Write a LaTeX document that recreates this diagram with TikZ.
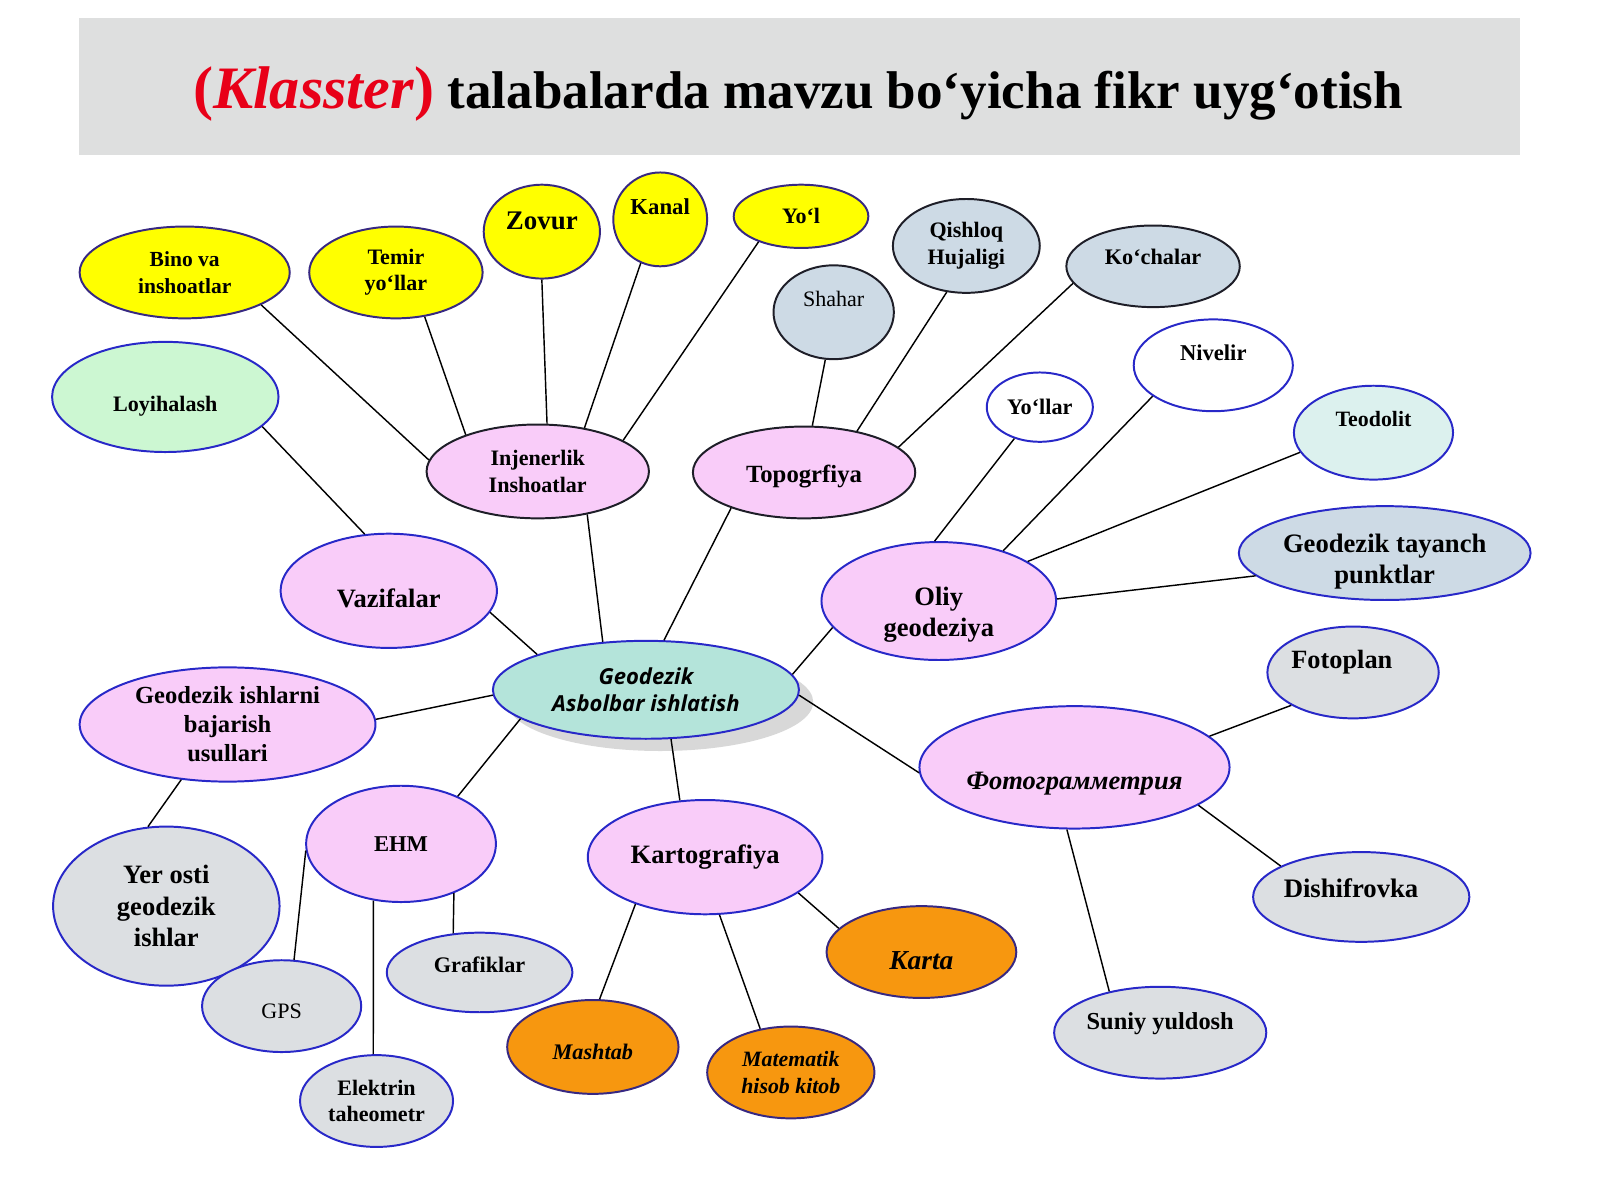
\documentclass[tikz,border=0pt]{standalone}
\usepackage{fontspec}
\setmainfont{Liberation Serif}
\newfontfamily\hubfont{Open Sans}
\usetikzlibrary{shapes.geometric,shadows}
\definecolor{titlegray}{RGB}{222,223,223}
\definecolor{klred}{RGB}{232,0,24}
\definecolor{yelfill}{RGB}{255,255,0}
\definecolor{pnkfill}{RGB}{249,204,249}
\definecolor{gryfill}{RGB}{220,223,226}
\definecolor{bgryfill}{RGB}{205,218,229}
\definecolor{mntfill}{RGB}{220,241,238}
\definecolor{grnfill}{RGB}{204,247,210}
\definecolor{hubfill}{RGB}{180,228,218}
\definecolor{orgfill}{RGB}{247,151,15}
\definecolor{edgeblue}{RGB}{40,40,200}
\definecolor{edgenavy}{RGB}{55,40,130}
\definecolor{edgedark}{RGB}{30,30,40}

\begin{document}
\begin{tikzpicture}[x=0.02cm,y=-0.02cm,
  blob/.style={ellipse,draw=edgeblue,line width=1.1pt,inner sep=0pt,align=center},
  sz/.style 2 args={minimum width=#1*0.04cm,minimum height=#2*0.04cm},
  fb/.style 2 args={font=\fontsize{#1pt}{#2pt}\selectfont\bfseries},
  fr/.style 2 args={font=\fontsize{#1pt}{#2pt}\selectfont},
  fi/.style 2 args={font=\fontsize{#1pt}{#2pt}\selectfont\bfseries\itshape},
  txtup/.style={text depth=#1},
  txtdn/.style={text height=#1},
  yel/.style={fill=yelfill,draw=edgenavy},
  pnk/.style={fill=pnkfill},
  gry/.style={fill=gryfill},
  bgry/.style={fill=bgryfill},
  wht/.style={fill=white},
  mnt/.style={fill=mntfill},
  grn/.style={fill=grnfill},
  org/.style={fill=orgfill,draw=edgenavy},
  dark/.style={draw=edgedark},
  hub/.style={fill=hubfill,font=\hubfont\fontsize{12.3pt}{15.4pt}\selectfont\bfseries\itshape,
    drop shadow={shadow xshift=0.28cm,shadow yshift=-0.24cm,fill=black!30}},
  lnk/.style={line width=0.8pt}]
\useasboundingbox (0,0) rectangle (1568,1176);
% title
\fill[titlegray] (77,18) rectangle (1490,152);
\node(title) at (782,92)[font=\fontsize{29.6pt}{36pt}\selectfont\bfseries]
  {\textcolor{klred}{\fontsize{33.6pt}{36pt}\selectfont(\textit{Klasster})} talabalarda mavzu bo‘yicha fikr uyg‘otish};
% injenerlik group
\node(bino) at (181,267)[blob,yel,sz={103}{45},fb={12}{14.8}] {Bino va\\inshoatlar};
\node(temir) at (388,267)[blob,yel,sz={85}{45},fb={12.3}{14.8}] {Temir\\yo‘llar};
\node(zovur) at (531,227)[blob,yel,sz={57}{46},fb={15}{18},txtup=0.44cm] {Zovur};
\node(kanal) at (647,215)[blob,yel,sz={46}{46},fb={12.7}{15},txtup=0.52cm] {Kanal};
\node(yol) at (785,212)[blob,yel,sz={66}{31},fb={12.3}{14}] {Yo‘l};
\node(injener) at (527,462)[blob,pnk,dark,sz={109}{46},fb={12.3}{14.8}] {Injenerlik\\Inshoatlar};
% topografiya group
\node(shahar) at (817,306)[blob,bgry,dark,sz={59}{46},fr={12.3}{15},txtup=0.52cm] {Shahar};
\node(qishloq) at (947,241)[blob,bgry,dark,sz={72}{46},fb={12.3}{14.8}] {Qishloq\\Hujaligi};
\node(kochalar) at (1130,261)[blob,bgry,dark,sz={85}{40},fb={12.4}{15},txtup=0.36cm] {Ko‘chalar};
\node(topo) at (788,463)[blob,pnk,dark,sz={109}{45},fb={13.8}{16},txtdn=0.49cm] {Topogrfiya};
% oliy geodeziya group
\node(yollar) at (1019,399)[blob,wht,sz={52}{34},fb={12.4}{14}] {Yo‘llar};
\node(nivelir) at (1189,358)[blob,wht,sz={78}{45},fb={12.6}{14},txtup=0.48cm] {Nivelir};
\node(teodolit) at (1346,424)[blob,mnt,sz={78}{46},fb={12.2}{15},txtup=0.52cm] {Teodolit};
\node(tayanch) at (1357,542)[blob,bgry,sz={143}{46},fb={14.85}{17.6},txtdn=1.32cm,inner ysep=-0.3cm] {Geodezik tayanch\\punktlar};
\node(oliy) at (920,589)[blob,pnk,sz={115}{57},fb={14.8}{17.6},txtdn=1.52cm] {Oliy\\geodeziya};
% left side
\node(loyiha) at (162,389)[blob,grn,sz={111}{54},fb={12.3}{15},txtdn=0.65cm] {Loyihalash};
\node(vazifa) at (381,579)[blob,pnk,sz={106}{56},fb={14.8}{17},txtdn=0.67cm] {Vazifalar};
\node(usul) at (223,710)[blob,pnk,sz={145}{56},fb={13.7}{16.2}] {Geodezik ishlarni\\bajarish\\usullari};
\node(yerosti) at (163,888)[blob,gry,sz={111}{78},fb={14.8}{17.6}] {Yer osti\\geodezik\\ishlar};
\node(gps) at (276,986)[blob,gry,sz={78}{45},fr={12.3}{14},txtdn=0.5cm] {GPS};
\node(ehm) at (393,827)[blob,pnk,sz={93}{57},fb={12.6}{14}] {EHM};
\node(grafik) at (470,953)[blob,gry,sz={91}{39},fb={12.4}{14},txtup=0.32cm] {Grafiklar};
\node(elektr) at (369,1079)[blob,gry,sz={75}{45},fb={12.3}{14.8}] {Elektrin\\taheometr};
% kartografiya group
\node(karto) at (691,840)[blob,pnk,sz={115}{56},fb={14.8}{17}] {Kartografiya};
\node(mashtab) at (581,1026)[blob,org,sz={84}{46},fi={12.4}{14},txtdn=0.5cm] {Mashtab};
\node(matem) at (775,1051)[blob,org,sz={82}{45},fi={12.2}{14.8}] {Matematik\\hisob kitob};
\node(karta) at (903,933)[blob,org,sz={93}{45},fi={15.3}{17},txtdn=0.68cm] {Karta};
% fotogrammetriya group
\node(foto) at (1053,752)[blob,pnk,sz={152}{60},fi={14.8}{17},txtdn=0.96cm] {Фотограмметрия};
\node(fotoplan) at (1326,659)[blob,gry,sz={84}{45},fb={14.7}{17},txtup=0.5cm] {\kern-0.44cm Fotoplan};
\node(dishif) at (1334,879)[blob,gry,sz={106}{44},fb={14.9}{17},txtup=0.36cm] {\kern-0.4cm Dishifrovka};
\node(suniy) at (1137,1012)[blob,gry,sz={104}{45},fb={13.6}{15},txtup=0.44cm] {Suniy yuldosh};
% centre
\node(hub) at (633,676)[blob,hub,sz={150}{48}] {Geodezik\\Asbolbar ishlatish};
% connectors
\draw[lnk] (bino.-23) -- (injener.174);
\draw[lnk] (temir.-57) -- (injener.153);
\draw[lnk] (zovur.-90) -- (injener.79);
\draw[lnk] (kanal.-114) -- (injener.43);
\draw[lnk] (yol.-149) -- (injener.20);
\draw[lnk] (injener.-41) -- (hub.132);
\draw[lnk] (shahar.-100) -- (topo.80);
\draw[lnk] (qishloq.-113) -- (topo.38);
\draw[lnk] (kochalar.-168) -- (topo.15);
\draw[lnk] (topo.-154) -- (hub.70);
\draw[lnk] (loyiha.-17) -- (vazifa.113);
\draw[lnk] (vazifa.-12) -- (hub.162);
\draw[lnk] (oliy.94) -- (yollar.-129);
\draw[lnk] (oliy.38) -- (nivelir.-153);
\draw[lnk] (oliy.24) -- (teodolit.-165);
\draw[lnk] (oliy.1) -- (tayanch.-170);
\draw[lnk] (oliy.-166) -- (hub.6);
\draw[lnk] (usul.2) -- (hub.-178);
\draw[lnk] (usul.-130) -- (yerosti.103);
\draw[lnk] (ehm.40) -- (hub.-167);
\draw[lnk] (ehm.-176) -- (gps.75);
\draw[lnk] (ehm.-116) -- (elektr.94);
\draw[lnk] (ehm.-43) -- (grafik.124);
\draw[lnk] (karto.114) -- (hub.-63);
\draw[lnk] (karto.-146) -- (mashtab.82);
\draw[lnk] (karto.-76) -- (matem.125);
\draw[lnk] (karto.-21) -- (karta.164);
\draw[lnk] (foto.-178) -- (hub.-2);
\draw[lnk] (foto.13) -- (fotoplan.-152);
\draw[lnk] (foto.-17) -- (dishif.159);
\draw[lnk] (foto.-97) -- (suniy.141);
\end{tikzpicture}
\end{document}
